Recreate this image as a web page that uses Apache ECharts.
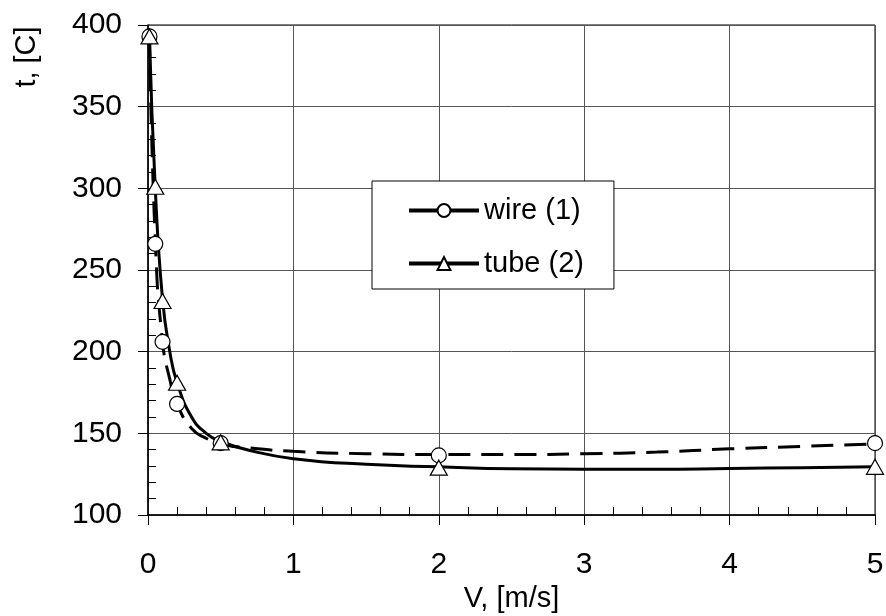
<!DOCTYPE html>
<html><head><meta charset="utf-8">
<script src="https://cdn.jsdelivr.net/npm/echarts@6/dist/echarts.min.js"></script>
<style>html,body{margin:0;padding:0;background:#fff}#c{width:886px;height:616px}</style>
</head><body><div id="c"></div>
<script>
// measured points (markers)
const wireV = [0.01, 0.05, 0.1, 0.2, 0.5, 2, 5];
const wireT = [393, 266, 206, 168, 144, 136.5, 144];
const tubeV = [0.01, 0.05, 0.1, 0.2, 0.5, 2, 5];
const tubeT = [393, 301, 231, 181, 144.5, 129, 129.5];
// fitted curves
const wireCurveV = [0.01, 0.05, 0.1, 0.15, 0.2, 0.3, 0.4, 0.5, 0.7, 1, 1.5, 2, 2.5, 3, 3.5, 4, 4.5, 5];
const wireCurveT = [393, 268, 206, 183, 168, 153, 147, 143.5, 141, 139, 137.5, 137, 137, 137.5, 138.5, 140.5, 142, 143.5];
const tubeCurveV = [0.01, 0.05, 0.1, 0.15, 0.2, 0.3, 0.4, 0.5, 0.7, 1, 1.5, 2, 2.5, 3, 3.5, 4, 4.5, 5];
const tubeCurveT = [393, 300, 232, 200, 181, 160, 150, 145, 139.5, 134.5, 131, 129.5, 128.3, 128, 128, 128.5, 129, 129.5];
const xTicks = [0, 1, 2, 3, 4, 5];
const yTicks = [100, 150, 200, 250, 300, 350, 400];
const seriesNames = ['wire (1)', 'tube (2)'];

const FONT = 'Liberation Sans, Arial, sans-serif';
const zip = (a, b) => a.map((v, i) => [v, b[i]]);

const chart = echarts.init(document.getElementById('c'), null, {renderer: 'canvas'});
const axisCommon = {
  type: 'value',
  axisLine: {show: true, onZero: false, lineStyle: {color: '#000', width: 1.5}},
  axisTick: {show: true, length: 10, lineStyle: {color: '#000', width: 1}},
  minorTick: {show: true, splitNumber: 5, length: -8, lineStyle: {color: '#000', width: 1}},
  splitLine: {show: true, lineStyle: {color: '#555', width: 1}},
  minorSplitLine: {show: false},
  axisLabel: {fontSize: 30, color: '#000', fontFamily: FONT}
};
chart.setOption({
  animation: false,
  backgroundColor: '#fff',
  grid: {left: 148, top: 25, right: 11, bottom: 101, show: true, borderColor: '#000', borderWidth: 1,
         containLabel: false, outerBoundsMode: 'none'},
  xAxis: Object.assign({}, axisCommon, {
    min: xTicks[0], max: xTicks[xTicks.length - 1], interval: 1,
    axisLabel: Object.assign({}, axisCommon.axisLabel, {margin: 35}),
    name: 'V, [m/s]', nameLocation: 'middle', nameGap: 68,
    nameTextStyle: {fontSize: 29, color: '#000', fontFamily: FONT}
  }),
  yAxis: Object.assign({}, axisCommon, {
    min: yTicks[0], max: yTicks[yTicks.length - 1], interval: 50,
    axisLabel: Object.assign({}, axisCommon.axisLabel, {margin: 26})
  }),
  graphic: [{
    type: 'text', x: 27, y: 57, rotation: Math.PI / 2,
    style: {text: 't, [C]', fontSize: 29, fill: '#000', fontFamily: FONT, align: 'center', verticalAlign: 'middle'}
  }],
  legend: {
    data: [
      {name: seriesNames[0], lineStyle: {type: 'solid', width: 4}},
      {name: seriesNames[1], lineStyle: {type: 'solid', width: 4}}
    ],
    orient: 'vertical', left: 372, top: 181,
    padding: [15, 30, 11, 35], itemGap: 24,
    itemWidth: 70, itemHeight: 16,
    backgroundColor: '#fff', borderColor: '#000', borderWidth: 1, borderRadius: 0,
    textStyle: {fontSize: 29, color: '#000', fontFamily: FONT},
    selectedMode: false
  },
  series: [
    {
      name: seriesNames[0], type: 'line', data: zip(wireCurveV, wireCurveT),
      smooth: 0.5, showSymbol: false, symbol: 'circle', symbolSize: 13,
      lineStyle: {color: '#000', width: 3, type: [22, 11]},
      itemStyle: {color: '#fff', borderColor: '#000', borderWidth: 1}, z: 3
    },
    {
      name: seriesNames[1], type: 'line', data: zip(tubeCurveV, tubeCurveT),
      smooth: 0.5, showSymbol: false, symbol: 'triangle', symbolSize: 14,
      lineStyle: {color: '#000', width: 3, type: 'solid'},
      itemStyle: {color: '#fff', borderColor: '#000', borderWidth: 1}, z: 3
    },
    {
      name: 'wire pts', type: 'scatter', data: zip(wireV, wireT), symbol: 'circle', symbolSize: 15,
      itemStyle: {color: '#fff', borderColor: '#000', borderWidth: 1.2, opacity: 1}, z: 5
    },
    {
      name: 'tube pts', type: 'scatter', data: zip(tubeV, tubeT), symbol: 'triangle', symbolSize: [17, 15],
      itemStyle: {color: '#fff', borderColor: '#000', borderWidth: 1.2, opacity: 1}, z: 6
    }
  ]
});
</script>
</body></html>
